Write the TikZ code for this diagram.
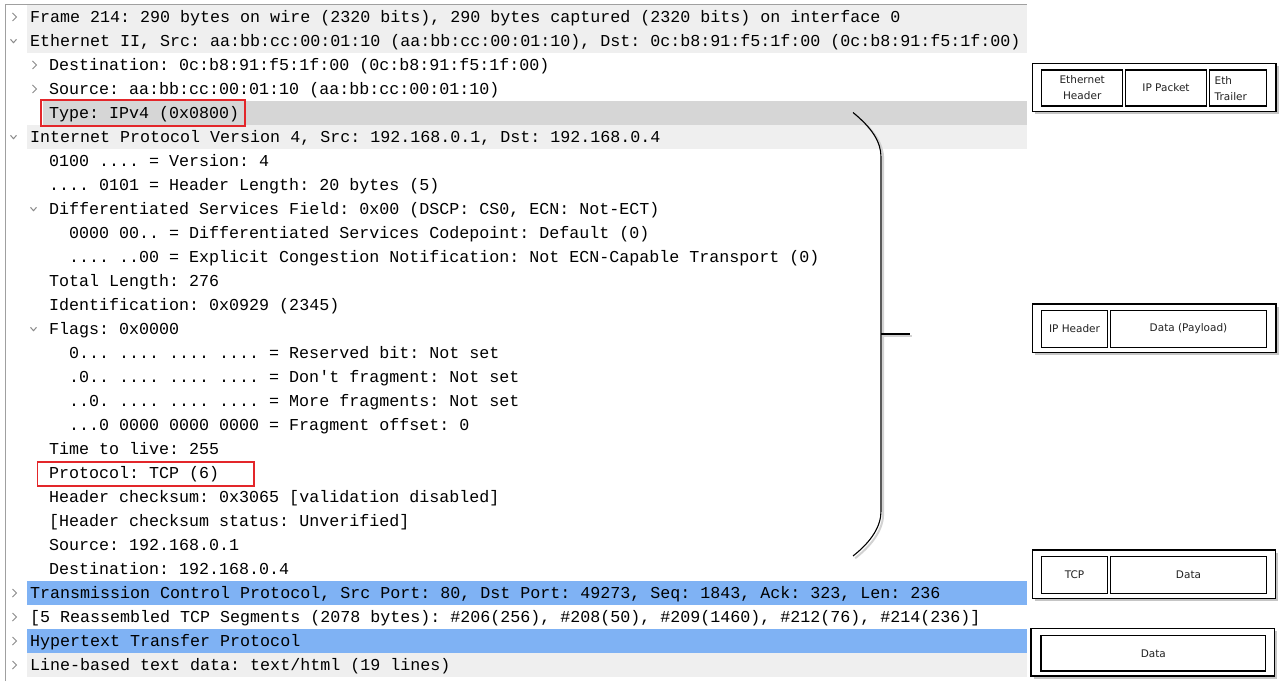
\documentclass[tikz,border=0pt]{standalone}
\usepackage{fontspec}
\setmonofont{Liberation Mono}
\newfontfamily\boxfont{DejaVu Sans}
\usetikzlibrary{shadows}
\definecolor{rowgray}{HTML}{EFEFEF}
\definecolor{rowdark}{HTML}{D6D6D6}
\definecolor{rowblue}{HTML}{7FB2F4}
\definecolor{redline}{HTML}{E3262A}
\definecolor{panelline}{HTML}{A0A0A0}
\definecolor{chev}{HTML}{8A8A8A}
\definecolor{boxtext}{HTML}{222222}
\tikzset{
  rowtext/.style={anchor=base west, inner sep=0pt, font=\ttfamily\fontsize{16.67}{20}\selectfont, text=black},
  chevline/.style={draw=chev, line width=1pt},
  closedchev/.pic={\draw[chevline] (-2,-4) -- (2,0) -- (-2,4);},
  openchev/.pic={\draw[chevline] (-3,-1.7) -- (0,1.7) -- (3,-1.7);},
  redmark/.style={draw=redline, line width=1.6pt, rectangle, inner sep=0pt},
  outerbox/.style={draw=black, line width=1.4pt, fill=white, rectangle, inner sep=0pt,
     drop shadow={shadow xshift=2.5pt, shadow yshift=-2.5pt, opacity=0.45, fill=gray}},
  innerbox/.style={draw=black, line width=1.1pt, rectangle, inner sep=0pt, font=\boxfont\fontsize{10.5}{16}\selectfont, text=boxtext, align=center},
}
\begin{document}
\begin{tikzpicture}[x=1pt,y=-1pt]
\useasboundingbox (0,0) rectangle (1282,687);
\fill[white] (0,0) rectangle (1282,687);
% row backgrounds
\fill[rowgray] (27,5) rectangle (1027,53);
\fill[rowdark] (43,101) rectangle (1027,125);
\fill[rowgray] (27,125) rectangle (1027,149);
\fill[rowblue] (27,581) rectangle (1027,605);
\fill[rowblue] (27,629) rectangle (1027,653);
\fill[rowgray] (27,653) rectangle (1027,677);
% panel border
\draw[panelline, line width=1pt] (5.5,681) -- (5.5,4.5) -- (1027,4.5);
% chevrons
\pic at (14.5,17) {closedchev};
\pic at (13.5,41) {openchev};
\pic at (34.5,65) {closedchev};
\pic at (34.5,89) {closedchev};
\pic at (13.5,137) {openchev};
\pic at (33.5,209) {openchev};
\pic at (33.5,329) {openchev};
\pic at (14.5,593) {closedchev};
\pic at (14.5,617) {closedchev};
\pic at (14.5,641) {closedchev};
\pic at (14.5,665) {closedchev};
% rows
\node[rowtext] (r1) at (30,22.5) {Frame 214: 290 bytes on wire (2320 bits), 290 bytes captured (2320 bits) on interface 0};
\node[rowtext] (r2) at (30,46.5) {Ethernet II, Src: aa:bb:cc:00:01:10 (aa:bb:cc:00:01:10), Dst: 0c:b8:91:f5:1f:00 (0c:b8:91:f5:1f:00)};
\node[rowtext] (r3) at (49,70.5) {Destination: 0c:b8:91:f5:1f:00 (0c:b8:91:f5:1f:00)};
\node[rowtext] (r4) at (49,94.5) {Source: aa:bb:cc:00:01:10 (aa:bb:cc:00:01:10)};
\node[rowtext] (r5) at (49,118.5) {Type: IPv4 (0x0800)};
\node[rowtext] (r6) at (30,142.5) {Internet Protocol Version 4, Src: 192.168.0.1, Dst: 192.168.0.4};
\node[rowtext] (r7) at (49,166.5) {0100 .... = Version: 4};
\node[rowtext] (r8) at (49,190.5) {.... 0101 = Header Length: 20 bytes (5)};
\node[rowtext] (r9) at (49,214.5) {Differentiated Services Field: 0x00 (DSCP: CS0, ECN: Not-ECT)};
\node[rowtext] (r10) at (69,238.5) {0000 00.. = Differentiated Services Codepoint: Default (0)};
\node[rowtext] (r11) at (69,262.5) {.... ..00 = Explicit Congestion Notification: Not ECN-Capable Transport (0)};
\node[rowtext] (r12) at (49,286.5) {Total Length: 276};
\node[rowtext] (r13) at (49,310.5) {Identification: 0x0929 (2345)};
\node[rowtext] (r14) at (49,334.5) {Flags: 0x0000};
\node[rowtext] (r15) at (69,358.5) {0... .... .... .... = Reserved bit: Not set};
\node[rowtext] (r16) at (69,382.5) {.0.. .... .... .... = Don't fragment: Not set};
\node[rowtext] (r17) at (69,406.5) {..0. .... .... .... = More fragments: Not set};
\node[rowtext] (r18) at (69,430.5) {...0 0000 0000 0000 = Fragment offset: 0};
\node[rowtext] (r19) at (49,454.5) {Time to live: 255};
\node[rowtext] (r20) at (49,478.5) {Protocol: TCP (6)};
\node[rowtext] (r21) at (49,502.5) {Header checksum: 0x3065 [validation disabled]};
\node[rowtext] (r22) at (49,526.5) {[Header checksum status: Unverified]};
\node[rowtext] (r23) at (49,550.5) {Source: 192.168.0.1};
\node[rowtext] (r24) at (49,574.5) {Destination: 192.168.0.4};
\node[rowtext] (r25) at (30,598.5) {Transmission Control Protocol, Src Port: 80, Dst Port: 49273, Seq: 1843, Ack: 323, Len: 236};
\node[rowtext] (r26) at (30,622.5) {[5 Reassembled TCP Segments (2078 bytes): \#206(256), \#208(50), \#209(1460), \#212(76), \#214(236)]};
\node[rowtext] (r27) at (30,646.5) {Hypertext Transfer Protocol};
\node[rowtext] (r28) at (30,670.5) {Line-based text data: text/html (19 lines)};
% red highlight boxes
\node[redmark, minimum width=204pt, minimum height=26pt] (typebox) at (143,113.3) {};
\node[redmark, minimum width=216.5pt, minimum height=24pt] (protobox) at (145.7,473.7) {};
% bracket
\coordinate (btop) at (853,112.5);
\coordinate (bmid) at (881,334);
\coordinate (btick) at (910,334);
\coordinate (bbot) at (853,556);
\begin{scope}[shift={(2.2,2.2)}]
\draw[gray!35, line width=2pt] (853,112.5) .. controls (872,128) and (881,142) .. (881,157) -- (881,511) .. controls (881,526) and (872,541) .. (853,556);
\draw[gray!35, line width=2pt] (881,334) -- (910,334);
\end{scope}
\draw[black, line width=1.1pt] (btop) .. controls (872,128) and (881,142) .. (881,157) -- (881,511) .. controls (881,526) and (872,541) .. (bbot);
\draw[black, line width=1.1pt] (bmid) -- (btick);
% right-hand frame boxes
\node[outerbox, minimum width=243.7pt, minimum height=48.4pt] (frame1) at (1154.2,87.5) {};
\node[innerbox, minimum width=81pt, minimum height=36pt] (ethhdr) at (1082.2,88) {Ethernet\\Header};
\node[innerbox, minimum width=81.4pt, minimum height=36pt] (ippkt) at (1166,88) {IP Packet};
\node[innerbox, minimum width=57.4pt, minimum height=36pt] (ethtrl) at (1238,88) {};
\node[anchor=west, inner sep=0pt, font=\boxfont\fontsize{10.5}{16}\selectfont, text=boxtext, align=left] (ethtrltxt) at (1214.5,88.7) {Eth\\Trailer};

\node[outerbox, minimum width=243.7pt, minimum height=48.3pt] (frame2) at (1154.2,328.2) {};
\node[innerbox, minimum width=66.4pt, minimum height=36.6pt] (iphdr) at (1074.5,329) {IP Header};
\node[innerbox, minimum width=156.4pt, minimum height=36.6pt] (ipdata) at (1188.5,329) {Data (Payload)};

\node[outerbox, minimum width=243.4pt, minimum height=48.3pt] (frame3) at (1154,574.2) {};
\node[innerbox, minimum width=66.4pt, minimum height=36.6pt] (tcphdr) at (1074.5,575) {TCP};
\node[innerbox, minimum width=156.4pt, minimum height=36.6pt] (tcpdata) at (1188.5,575) {Data};

\node[outerbox, minimum width=243.3pt, minimum height=47.7pt] (frame4) at (1152.7,652.2) {};
\node[innerbox, minimum width=224.7pt, minimum height=35.3pt] (httpdata) at (1153.3,653.3) {Data};
\end{tikzpicture}
\end{document}
